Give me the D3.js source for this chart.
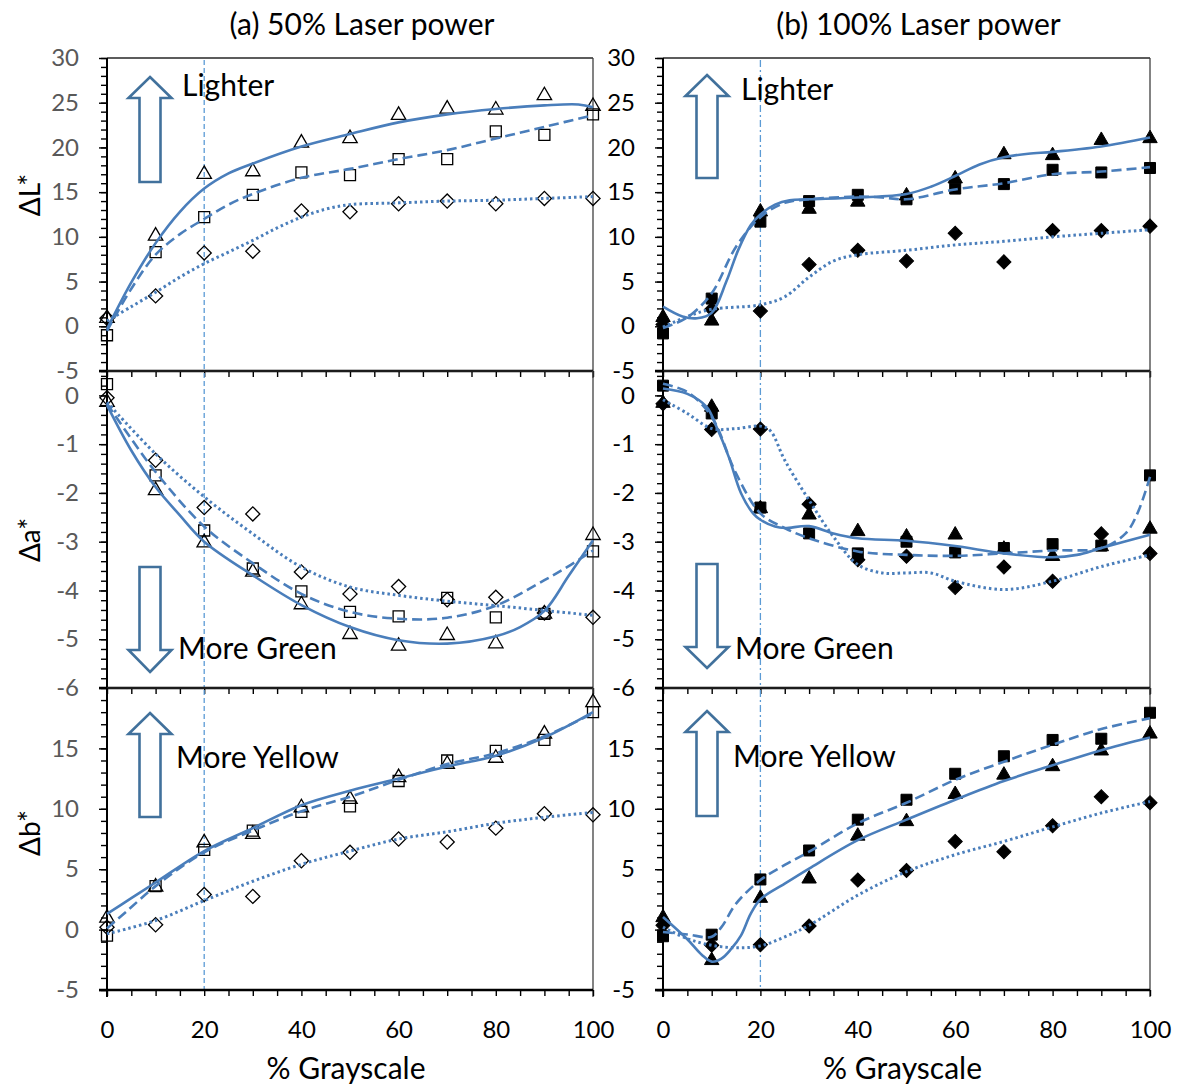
<!DOCTYPE html>
<html>
<head>
<meta charset="utf-8">
<script src="https://cdn.jsdelivr.net/npm/d3@7"></script>
<style>
  body { margin: 0; background: #fff; }
  text { font-family: Lato, "Open Sans", sans-serif; }
</style>
</head>
<body>
<svg id="chart" width="1178" height="1086"></svg>
<script>
const grayscale = [0, 10, 20, 30, 40, 50, 60, 70, 80, 90, 100];

// measured points, (a) 50% laser power
const L50_tri = [0.9, 10.1, 17.0, 17.3, 20.5, 21.0, 23.6, 24.3, 24.2, 25.8, 24.6];
const L50_sq  = [-1.0, 8.3, 12.2, 14.7, 17.2, 16.9, 18.7, 18.7, 21.8, 21.4, 23.7];
const L50_dia = [0.9, 3.4, 8.2, 8.4, 12.9, 12.8, 13.7, 14.0, 13.7, 14.3, 14.3];
const a50_tri = [-0.14, -1.95, -3.02, -3.62, -4.29, -4.90, -5.14, -4.92, -5.09, -4.48, -2.87];
const a50_sq  = [0.23, -1.64, -2.77, -3.55, -4.02, -4.44, -4.53, -4.15, -4.55, -4.48, -3.20];
const a50_dia = [-0.05, -1.33, -2.30, -2.43, -3.62, -4.07, -3.92, -4.19, -4.14, -4.46, -4.55];
const b50_tri = [0.96, 3.54, 7.2, 7.9, 10.1, 10.8, 12.6, 13.7, 14.2, 16.2, 18.8];
const b50_sq  = [-0.5, 3.6, 6.6, 8.2, 9.75, 10.2, 12.3, 14.0, 14.8, 15.7, 18.0];
const b50_dia = [0.2, 0.4, 2.9, 2.75, 5.7, 6.4, 7.5, 7.25, 8.4, 9.6, 9.5];

// measured points, (b) 100% laser power
const L100_tri = [1.0, 0.6, 12.8, 13.1, 13.9, 14.6, 16.5, 19.2, 19.1, 20.8, 21.0];
const L100_sq  = [-0.8, 3.1, 11.7, 14.0, 14.7, 14.2, 15.4, 15.9, 17.5, 17.2, 17.7];
const L100_dia = [0.2, 1.9, 1.7, 6.9, 8.5, 7.3, 10.4, 7.2, 10.7, 10.7, 11.2];
const a100_tri = [-0.16, -0.24, -2.32, -2.45, -2.79, -2.90, -2.86, -3.15, -3.30, -3.10, -2.74];
const a100_sq  = [0.2, -0.37, -2.30, -2.83, -3.24, -3.00, -3.22, -3.13, -3.05, -3.08, -1.64];
const a100_dia = [-0.17, -0.70, -0.69, -2.23, -3.37, -3.30, -3.94, -3.52, -3.81, -2.84, -3.24];
const b100_tri = [1.0, -2.55, 2.6, 4.2, 7.75, 8.95, 11.2, 12.8, 13.5, 14.8, 16.2];
const b100_sq  = [-0.55, -0.42, 4.15, 6.55, 9.1, 10.75, 12.9, 14.35, 15.7, 15.8, 17.95];
const b100_dia = [0.35, -1.3, -1.25, 0.3, 4.1, 4.9, 7.3, 6.45, 8.6, 11.0, 10.5];

// trend curves, [% grayscale, value]
const L50_tri_fit = [[0,-0.3],[5,4.9],[10,9.3],[15,12.8],[20,15.4],[25,17.1],[30,18.2],[40,20.1],[50,21.5],[60,22.8],[70,23.7],[80,24.3],[90,24.7],[97,24.8],[100,24.5]];
const L50_sq_fit  = [[0,-0.5],[5,4.2],[10,8.0],[15,10.3],[20,12.0],[25,13.6],[30,14.8],[40,16.6],[50,17.6],[60,18.7],[70,19.7],[80,21.0],[90,22.3],[100,23.6]];
const L50_dia_fit = [[0,0.6],[5,2.2],[10,3.8],[15,5.5],[20,7.0],[25,8.3],[30,9.6],[35,11.0],[40,12.2],[45,13.1],[50,13.6],[60,13.8],[70,14.0],[80,14.1],[90,14.3],[100,14.5]];
const a50_tri_fit = [[0,-0.2],[5,-1.13],[10,-1.88],[15,-2.46],[20,-3.0],[30,-3.69],[40,-4.3],[50,-4.75],[60,-5.02],[70,-5.09],[80,-4.94],[85,-4.75],[90,-4.42],[95,-3.7],[100,-2.97]];
const a50_sq_fit  = [[0,-0.17],[5,-0.89],[10,-1.57],[20,-2.69],[30,-3.44],[40,-4.07],[50,-4.44],[60,-4.58],[70,-4.56],[80,-4.31],[90,-3.79],[95,-3.5],[100,-3.18]];
const a50_dia_fit = [[0,-0.14],[10,-1.2],[20,-2.08],[30,-2.84],[40,-3.52],[50,-3.93],[60,-4.1],[70,-4.22],[80,-4.31],[90,-4.41],[100,-4.51]];
const b50_tri_fit = [[0,1.3],[5,2.6],[10,3.9],[20,6.5],[30,8.4],[40,10.3],[50,11.5],[60,12.5],[70,13.5],[80,14.4],[90,15.9],[100,18.0]];
const b50_sq_fit  = [[0,0.1],[4,1.5],[10,3.6],[20,6.4],[30,8.2],[40,9.8],[50,11.0],[60,12.4],[70,13.7],[80,14.6],[90,16.0],[100,17.9]];
const b50_dia_fit = [[0,-0.35],[10,0.75],[20,2.4],[30,4.0],[40,5.4],[50,6.5],[60,7.5],[70,8.1],[80,8.8],[90,9.3],[100,9.7]];

const L100_tri_fit = [[0,2.2],[4,1.1],[7,0.9],[10,1.5],[13,5.0],[15.5,8.6],[18,11.3],[20,12.5],[23,13.6],[26,14.1],[30,14.2],[40,14.4],[50,14.8],[55,15.6],[60,16.8],[65,18.1],[70,18.9],[75,19.3],[80,19.5],[90,20.1],[100,21.1]];
const L100_sq_fit  = [[0,-0.2],[5,1.0],[10,3.7],[15,8.9],[20,12.2],[25,13.8],[30,14.2],[40,14.5],[45,14.4],[50,14.2],[60,15.3],[70,16.0],[80,17.0],[90,17.3],[100,17.8]];
const L100_dia_fit = [[0,-0.1],[5,1.1],[10,1.9],[20,2.4],[25,3.3],[30,5.5],[35,7.3],[40,8.0],[50,8.5],[60,9.1],[70,9.5],[80,10.0],[90,10.4],[100,10.8]];
const a100_tri_fit = [[0,0.14],[5,0.03],[9,-0.24],[11,-0.65],[13.5,-1.26],[16,-2.0],[18.5,-2.42],[20,-2.55],[23,-2.69],[25,-2.72],[30,-2.68],[35,-2.83],[40,-2.93],[50,-2.98],[60,-3.09],[70,-3.24],[80,-3.32],[85,-3.27],[90,-3.13],[100,-2.86]];
const a100_sq_fit  = [[0,0.24],[5,0.07],[10,-0.44],[15,-1.6],[20,-2.42],[25,-2.72],[30,-2.93],[40,-3.2],[50,-3.27],[60,-3.29],[70,-3.24],[80,-3.18],[90,-3.13],[95,-2.83],[97.5,-2.4],[100,-1.67]];
const a100_dia_fit = [[0,-0.09],[5,-0.37],[10,-0.68],[15,-0.68],[20,-0.63],[22,-0.72],[25,-1.33],[30,-2.15],[35,-2.9],[40,-3.47],[45,-3.64],[50,-3.64],[55,-3.64],[60,-3.81],[70,-3.98],[80,-3.81],[90,-3.51],[100,-3.27]];
const b100_tri_fit = [[0,1.05],[5,-0.8],[8,-2.1],[10,-2.65],[12,-2.4],[14,-1.6],[16,-0.5],[18,1.3],[20,2.5],[25,3.8],[30,5.05],[40,7.4],[50,9.1],[60,10.75],[70,12.3],[80,13.6],[90,14.85],[100,15.9]];
const b100_sq_fit  = [[0,-0.2],[5,-0.4],[10,-0.6],[12,0.2],[15,2.15],[20,4.1],[25,5.35],[30,6.45],[40,8.8],[50,10.5],[60,12.4],[70,13.9],[80,15.3],[90,16.6],[100,17.5]];
const b100_dia_fit = [[0,0.2],[5,-0.75],[10,-1.3],[15,-1.5],[20,-1.35],[25,-0.6],[30,0.35],[40,2.85],[50,4.8],[60,6.2],[70,7.3],[80,8.5],[90,9.65],[100,10.6]];

const xTicks = [0, 20, 40, 60, 80, 100];
const titles = ["(a) 50% Laser power", "(b) 100% Laser power"];
const rowTitles = ["\u0394L*", "\u0394a*", "\u0394b*"];
const notes = ["Lighter", "More Green", "More Yellow"];

const blue = "#4A7EBB";
const svg = d3.select("#chart");

const cols = [
  { x0: 107, x1: 593, labelColor: "#595959", filled: false, refDash: "5,3",
    data: [[L50_tri, L50_sq, L50_dia], [a50_tri, a50_sq, a50_dia], [b50_tri, b50_sq, b50_dia]],
    fits: [[L50_tri_fit, L50_sq_fit, L50_dia_fit], [a50_tri_fit, a50_sq_fit, a50_dia_fit], [b50_tri_fit, b50_sq_fit, b50_dia_fit]] },
  { x0: 663, x1: 1150, labelColor: "#000", filled: true, refDash: "7,3,2,3",
    data: [[L100_tri, L100_sq, L100_dia], [a100_tri, a100_sq, a100_dia], [b100_tri, b100_sq, b100_dia]],
    fits: [[L100_tri_fit, L100_sq_fit, L100_dia_fit], [a100_tri_fit, a100_sq_fit, a100_dia_fit], [b100_tri_fit, b100_sq_fit, b100_dia_fit]] }
];

const rows = [
  { y0: 58, y1: 371, domain: [-5, 30], major: d3.range(-5, 31, 5), minor: d3.range(-5, 30.01, 1), titleY: 195 },
  { y0: 371, y1: 688, domain: [-6, 0.5], major: d3.range(-6, 0.01, 1), minor: d3.range(-6, 0.41, 0.2), titleY: 540 },
  { y0: 688, y1: 990, domain: [-5, 20], major: [-5, 0, 5, 10, 15], minor: d3.range(-5, 19.01, 1), titleY: 833 }
];

// arrow / note geometry per row and column
const arrows = [
  [{ cx: 150, tip: 77, base: 98, tail: 182, tx: 182, ty: 96 }, { cx: 707, tip: 75, base: 96, tail: 178, tx: 741, ty: 100 }],
  [{ cx: 150, tip: 672, base: 650, tail: 567, tx: 178, ty: 659 }, { cx: 707, tip: 668, base: 647, tail: 564, tx: 735, ty: 659 }],
  [{ cx: 150, tip: 713, base: 734, tail: 817, tx: 176, ty: 768 }, { cx: 707, tip: 711, base: 732, tail: 816, tx: 733, ty: 767 }]
];

const shapes = ["tri", "sq", "dia"];
const dashes = [null, "10,5", "2.5,3"];

const markerPath = (shape) => {
  if (shape === "tri") return d3.symbol(d3.symbolTriangle, 90)();
  return d3.symbol(d3.symbolSquare, shape === "sq" ? 121 : 100)();
};

const fmt = (d) => String(Math.round(d * 10) / 10);

cols.forEach((col, ci) => {
  const x = d3.scaleLinear().domain([0, 100]).range([col.x0, col.x1]);

  rows.forEach((row, ri) => {
    const y = d3.scaleLinear().domain(row.domain).range([row.y1, row.y0]);
    const g = svg.append("g");

    // reference line at 20 % grayscale
    g.append("line")
      .attr("x1", x(20)).attr("x2", x(20))
      .attr("y1", row.y0 + 2).attr("y2", row.y1)
      .attr("stroke", "#5B9BD5").attr("stroke-width", 1.3)
      .attr("stroke-dasharray", col.refDash);

    // frame: top and right
    g.append("line").attr("x1", col.x0).attr("x2", col.x1).attr("y1", row.y0).attr("y2", row.y0)
      .attr("stroke", "#262626").attr("stroke-width", 1.3);
    g.append("line").attr("x1", col.x1).attr("x2", col.x1).attr("y1", row.y0).attr("y2", row.y1 + 7)
      .attr("stroke", "#404040").attr("stroke-width", 1.3);

    // y axis minor and major ticks
    const yMinor = g.append("g").attr("transform", `translate(${col.x0},0)`)
      .call(d3.axisLeft(y).tickValues(row.minor).tickSize(6).tickFormat(""));
    const yMajor = g.append("g").attr("transform", `translate(${col.x0},0)`)
      .call(d3.axisLeft(y).tickValues(row.major).tickSize(8).tickPadding(20).tickFormat(fmt));
    [yMinor, yMajor].forEach((a) => {
      a.select(".domain").remove();
      a.selectAll("line").attr("stroke", "#000").attr("stroke-width", 1.4);
    });
    yMajor.selectAll("text")
      .attr("fill", col.labelColor)
      .style("font-size", "24px")
      .style("font-family", "Lato, 'Open Sans', sans-serif");

    // x axis ticks every 5
    const xAx = g.append("g").attr("transform", `translate(0,${row.y1})`)
      .call(d3.axisBottom(x).tickValues(d3.range(0, 100.1, 5)).tickSize(6).tickFormat(""));
    xAx.select(".domain").remove();
    xAx.selectAll("line").attr("stroke", "#000").attr("stroke-width", 1.4);

    // axis lines
    g.append("line").attr("x1", col.x0).attr("x2", col.x0).attr("y1", row.y0).attr("y2", row.y1 + 7)
      .attr("stroke", "#000").attr("stroke-width", 2);
    g.append("line").attr("x1", col.x0 - 8).attr("x2", col.x1).attr("y1", row.y1).attr("y2", row.y1)
      .attr("stroke", "#000").attr("stroke-width", 2.6);

    // markers
    col.data[ri].forEach((vals, si) => {
      g.append("g").selectAll("path")
        .data(vals)
        .join("path")
        .attr("d", markerPath(shapes[si]))
        .attr("transform", (d, i) => `translate(${x(grayscale[i])},${y(d)})` + (shapes[si] === "dia" ? " rotate(45)" : ""))
        .attr("fill", col.filled ? "#000" : "none")
        .attr("stroke", "#000")
        .attr("stroke-width", col.filled ? 1 : 1.3);
    });

    // trend curves
    const line = d3.line().x((d) => x(d[0])).y((d) => y(d[1])).curve(d3.curveCatmullRom.alpha(0.5));
    col.fits[ri].forEach((pts, si) => {
      g.append("path")
        .attr("d", line(pts))
        .attr("fill", "none")
        .attr("stroke", blue)
        .attr("stroke-width", si === 2 ? 3 : 2.6)
        .attr("stroke-dasharray", dashes[si]);
    });

    // block arrow and note
    const a = arrows[ri][ci];
    const hh = 21.5, hs = 10.5;
    const arrowPts = [
      [a.cx, a.tip], [a.cx + hh, a.base], [a.cx + hs, a.base], [a.cx + hs, a.tail],
      [a.cx - hs, a.tail], [a.cx - hs, a.base], [a.cx - hh, a.base]
    ];
    g.append("path")
      .attr("d", d3.line()(arrowPts) + "Z")
      .attr("fill", "#fff")
      .attr("stroke", "#41719C")
      .attr("stroke-width", 2.6)
      .attr("stroke-linejoin", "miter");
    g.append("text")
      .attr("x", a.tx).attr("y", a.ty)
      .style("font-size", "30px")
      .attr("fill", "#000")
      .text(notes[ri]);

    // row titles on the left column only
    if (ci === 0) {
      svg.append("text")
        .attr("transform", `translate(40,${row.titleY}) rotate(-90)`)
        .attr("text-anchor", "middle")
        .style("font-size", "28px")
        .text(rowTitles[ri]);
    }

    // x labels on the bottom row
    if (ri === rows.length - 1) {
      const xl = g.append("g").attr("transform", `translate(0,${row.y1})`)
        .call(d3.axisBottom(x).tickValues(xTicks).tickSize(0).tickPadding(31).tickFormat(fmt));
      xl.select(".domain").remove();
      xl.selectAll("text").attr("fill", "#000").style("font-size", "24px")
        .style("font-family", "Lato, 'Open Sans', sans-serif");
      svg.append("text")
        .attr("x", (col.x0 + col.x1) / 2 - 4).attr("y", 1079)
        .attr("text-anchor", "middle")
        .style("font-size", "30px")
        .text("% Grayscale");
    }
  });

  svg.append("text")
    .attr("x", (col.x0 + col.x1) / 2 + 12).attr("y", 35)
    .attr("text-anchor", "middle")
    .style("font-size", "30px")
    .text(titles[ci]);
});
</script>
</body>
</html>
